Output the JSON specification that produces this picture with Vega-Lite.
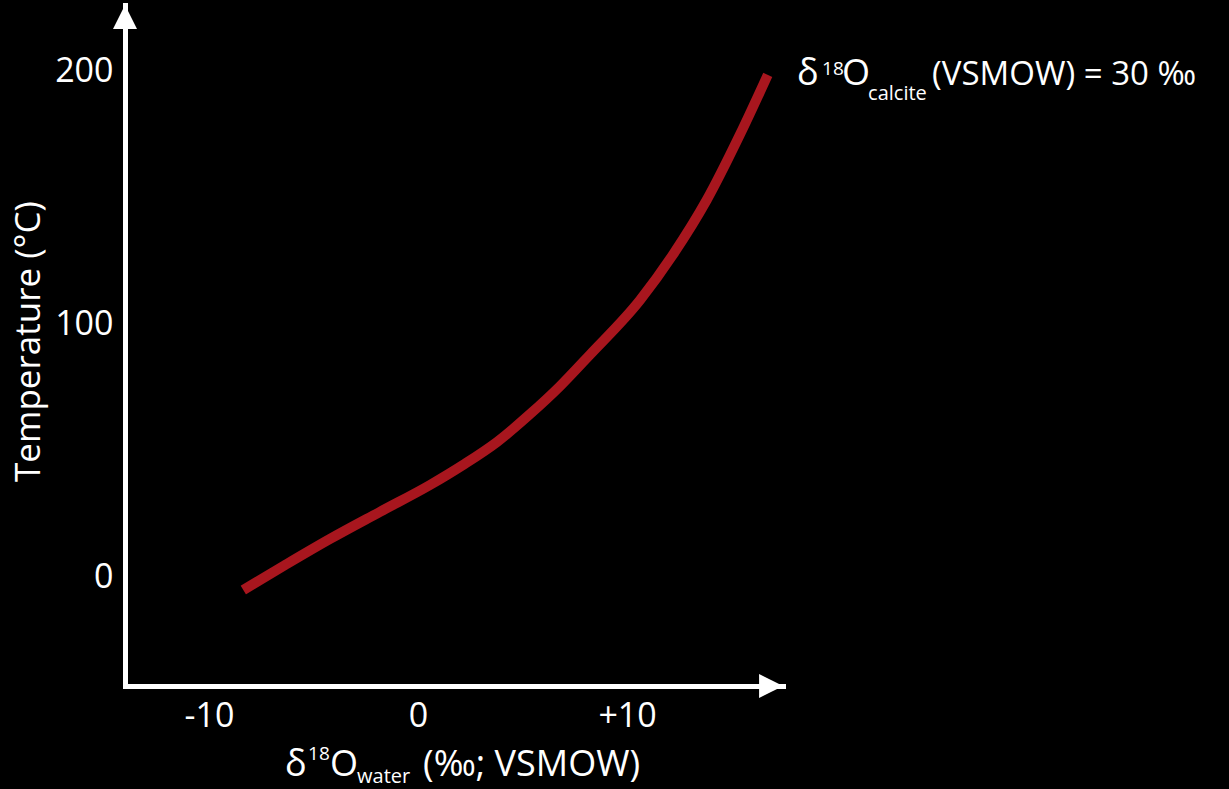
{
  "$schema": "https://vega.github.io/schema/vega-lite/v6.json",
  "width": 658,
  "height": 681,
  "autosize": {"type": "none"},
  "padding": {"left": 125, "top": 5, "right": 446, "bottom": 103},
  "background": "#000000",
  "config": {
    "view": {"stroke": null},
    "font": "Open Sans",
    "text": {"font": "Open Sans", "color": "#ffffff"}
  },
  "datasets": {
    "curve": [
      {"d18O_water": -8.36, "T": -3.95},
      {"d18O_water": -6.36, "T": 5.9},
      {"d18O_water": -4.21, "T": 16.2},
      {"d18O_water": -1.82, "T": 26.9},
      {"d18O_water": 0.57, "T": 37.5},
      {"d18O_water": 2.15, "T": 45.4},
      {"d18O_water": 3.78, "T": 54.5},
      {"d18O_water": 5.36, "T": 65.5},
      {"d18O_water": 6.79, "T": 76.5},
      {"d18O_water": 8.23, "T": 89.0},
      {"d18O_water": 10.62, "T": 110.5},
      {"d18O_water": 12.2, "T": 128.5},
      {"d18O_water": 13.81, "T": 150.0},
      {"d18O_water": 15.41, "T": 176.0},
      {"d18O_water": 16.73, "T": 199.4}
    ],
    "arrows": [
      {"axis": "y", "x": -14.02, "y": 222.3},
      {"axis": "x", "x": 16.89, "y": -41.85}
    ],
    "labels": [
      {"group": "xtitle", "role": "symbol", "x": -6.364, "y": -77.38, "text": "δ"},
      {"group": "xtitle", "role": "sup", "x": -5.263, "y": -71.06, "text": "18"},
      {"group": "xtitle", "role": "symbol", "x": -4.211, "y": -77.38, "text": "O"},
      {"group": "xtitle", "role": "sub", "x": -2.919, "y": -80.15, "text": "water"},
      {"group": "xtitle", "role": "unit", "x": 0.239, "y": -77.38, "text": "(‰; VSMOW)"},
      {"group": "legend", "role": "symbol", "x": 18.134, "y": 195.42, "text": "δ"},
      {"group": "legend", "role": "sup", "x": 19.33, "y": 199.37, "text": "18"},
      {"group": "legend", "role": "symbol", "x": 20.287, "y": 195.42, "text": "O"},
      {"group": "legend", "role": "sub", "x": 21.531, "y": 189.5, "text": "calcite"},
      {"group": "legend", "role": "unit", "x": 24.593, "y": 195.42, "text": "(VSMOW) = 30 ‰"}
    ]
  },
  "layer": [
    {
      "data": {"name": "curve"},
      "mark": {"type": "line", "color": "#a8161e", "strokeWidth": 10, "interpolate": "monotone", "strokeCap": "butt"},
      "encoding": {
        "x": {
          "field": "d18O_water", "type": "quantitative",
          "scale": {"domain": [-14.02, 17.46], "nice": false, "zero": false},
          "axis": {
            "values": [-10, 0, 10],
            "labelExpr": "datum.value > 0 ? '+' + datum.value : '' + datum.value",
            "ticks": false, "grid": false,
            "domainColor": "#ffffff", "domainWidth": 5, "domainCap": "square",
            "labelColor": "#ffffff", "labelFont": "Open Sans", "labelFontSize": 34,
            "labelPadding": 13, "title": null
          }
        },
        "y": {
          "field": "T", "type": "quantitative",
          "scale": {"domain": [-41.85, 227.0], "nice": false, "zero": false},
          "axis": {
            "values": [0, 100, 200],
            "ticks": false, "grid": false,
            "domainColor": "#ffffff", "domainWidth": 5, "domainCap": "square",
            "labelColor": "#ffffff", "labelFont": "Open Sans", "labelFontSize": 34,
            "labelPadding": 12, "labelOffset": -2,
            "title": "Temperature (°C)",
            "titleColor": "#ffffff", "titleFont": "Open Sans", "titleFontSize": 35, "titleFontWeight": "normal",
            "titleAngle": 270, "titleAlign": "center", "titleBaseline": "alphabetic",
            "titleX": -86, "titleY": 336
          }
        }
      }
    },
    {
      "data": {"name": "arrows"},
      "transform": [{"filter": "datum.axis == 'y'"}],
      "mark": {"type": "point", "shape": "M-1,1L1,1L0,-1Z", "size": 576, "filled": true, "color": "#ffffff", "opacity": 1, "strokeWidth": 0},
      "encoding": {
        "x": {"field": "x", "type": "quantitative"},
        "y": {"field": "y", "type": "quantitative"}
      }
    },
    {
      "data": {"name": "arrows"},
      "transform": [{"filter": "datum.axis == 'x'"}],
      "mark": {"type": "point", "shape": "M-1,-1L1,0L-1,1Z", "size": 576, "filled": true, "color": "#ffffff", "opacity": 1, "strokeWidth": 0},
      "encoding": {
        "x": {"field": "x", "type": "quantitative"},
        "y": {"field": "y", "type": "quantitative"}
      }
    },
    {
      "data": {"name": "labels"},
      "transform": [{"filter": "datum.role == 'symbol' || (datum.role == 'unit' && datum.group == 'xtitle')"}],
      "mark": {"type": "text", "align": "left", "baseline": "alphabetic", "fontSize": 36, "color": "#ffffff", "font": "Open Sans"},
      "encoding": {
        "x": {"field": "x", "type": "quantitative"},
        "y": {"field": "y", "type": "quantitative"},
        "text": {"field": "text"}
      }
    },
    {
      "data": {"name": "labels"},
      "transform": [{"filter": "datum.role == 'unit' && datum.group == 'legend'"}],
      "mark": {"type": "text", "align": "left", "baseline": "alphabetic", "fontSize": 33, "color": "#ffffff", "font": "Open Sans"},
      "encoding": {
        "x": {"field": "x", "type": "quantitative"},
        "y": {"field": "y", "type": "quantitative"},
        "text": {"field": "text"}
      }
    },
    {
      "data": {"name": "labels"},
      "transform": [{"filter": "datum.role == 'sup'"}],
      "mark": {"type": "text", "align": "left", "baseline": "alphabetic", "fontSize": 19, "color": "#ffffff", "font": "Open Sans"},
      "encoding": {
        "x": {"field": "x", "type": "quantitative"},
        "y": {"field": "y", "type": "quantitative"},
        "text": {"field": "text"}
      }
    },
    {
      "data": {"name": "labels"},
      "transform": [{"filter": "datum.role == 'sub'"}],
      "mark": {"type": "text", "align": "left", "baseline": "alphabetic", "fontSize": 20, "color": "#ffffff", "font": "Open Sans"},
      "encoding": {
        "x": {"field": "x", "type": "quantitative"},
        "y": {"field": "y", "type": "quantitative"},
        "text": {"field": "text"}
      }
    }
  ]
}
